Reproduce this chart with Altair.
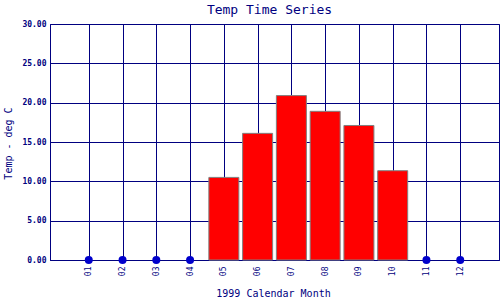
import altair as alt
import pandas as pd

months = ["01", "02", "03", "04", "05", "06", "07", "08", "09", "10", "11", "12"]
month_num = [1, 2, 3, 4, 5, 6, 7, 8, 9, 10, 11, 12]
temps = [0, 0, 0, 0, 10.5, 16.1, 20.9, 18.9, 17.1, 11.35, 0, 0]
y_ticks = [0, 5, 10, 15, 20, 25, 30]

df = pd.DataFrame({"month": months, "m": month_num, "temp": temps})

NAVY = "#000080"
FONT = "DejaVu Sans Mono"

xscale = alt.Scale(domain=[0, 13], nice=False, zero=False)
yscale = alt.Scale(domain=[0, 30], nice=False)

xaxis = alt.Axis(
    values=month_num,
    labelExpr="datum.value < 10 ? '0' + datum.value : '' + datum.value",
    labelAngle=270, labelAlign="right", labelBaseline="middle",
    labelFont=FONT, labelFontSize=8, labelColor=NAVY, labelPadding=6,
    ticks=False, grid=True, gridColor=NAVY, gridOpacity=1, gridWidth=1,
    domainColor=NAVY, domainWidth=1, labelOverlap=False,
    title="1999 Calendar Month", titleFont=FONT, titleFontSize=10,
    titleFontWeight="normal", titleColor=NAVY, titleX=223, titleY=38,
    titleAnchor="start", titleAlign="center", titleBaseline="bottom",
)
yaxis = alt.Axis(
    values=y_ticks, format=".2f", labelOverlap=False,
    labelFont=FONT, labelFontSize=8, labelFontWeight="bold", labelColor=NAVY,
    labelPadding=4, ticks=False,
    grid=True, gridColor=NAVY, gridOpacity=1, gridWidth=1,
    domainColor=NAVY, domainWidth=1,
    title="Temp - deg C", titleFont=FONT, titleFontSize=10,
    titleFontWeight="normal", titleColor=NAVY, titleX=-42, titleY=119,
    titleAlign="center", titleBaseline="middle", titleAngle=270,
)

base = alt.Chart(df)

bars = base.transform_filter("datum.temp > 0").mark_bar(
    size=30, color="#ff0000", stroke="#808080", strokeWidth=1
).encode(
    x=alt.X("m:Q", scale=xscale, axis=xaxis),
    y=alt.Y("temp:Q", scale=yscale, axis=yaxis),
)

dots = base.transform_filter("datum.temp == 0").mark_circle(
    size=64, color="#0000cc", opacity=1
).encode(
    x=alt.X("m:Q", scale=xscale, axis=xaxis),
    y=alt.Y("temp:Q", scale=yscale, axis=yaxis),
)

chart = alt.layer(bars, dots).properties(
    width=449, height=236,
    background="white",
    autosize=alt.AutoSizeParams(type="none"),
    padding={"left": 50, "top": 24, "right": 1, "bottom": 40},
    title=alt.TitleParams(
        "Temp Time Series", font=FONT, fontSize=13, fontWeight="normal",
        color=NAVY, anchor="middle", frame="group", dx=-5, offset=3,
    ),
).configure_view(stroke=NAVY, strokeWidth=1)

chart.save("out.html", embed_options={"renderer": "svg", "actions": False})
